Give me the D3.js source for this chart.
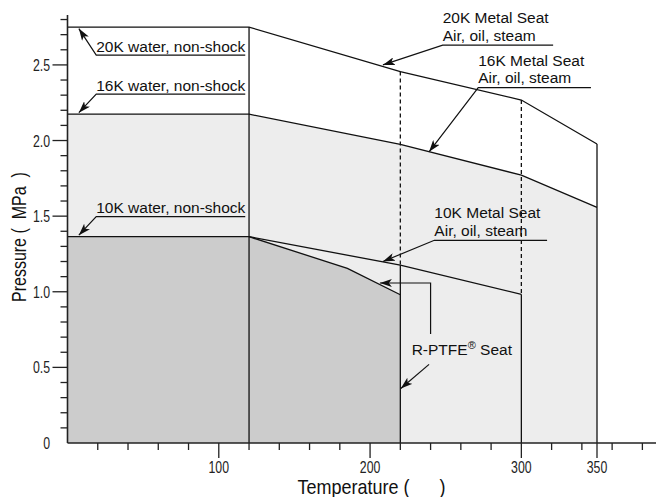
<!DOCTYPE html>
<html><head><meta charset="utf-8">
<script src="https://cdn.jsdelivr.net/npm/d3@7"></script>
<style>
html,body{margin:0;padding:0;background:#fff;}
svg{display:block;}
.ann{font-family:"Liberation Sans",Arial,sans-serif;font-size:15.5px;fill:#111;}
.tick{font-family:"Liberation Sans",Arial,sans-serif;font-size:16px;fill:#222;}
.title{font-family:"Liberation Sans",Arial,sans-serif;font-size:20px;fill:#111;white-space:pre;}
</style>
</head><body>
<svg id="chart" width="656" height="497"></svg>
<script>
// ---- data ----
const metalTemps = [0, 120, 220, 300, 350];
const p20K = [2.75, 2.75, 2.456, 2.268, 1.977];
const p16K = [2.174, 2.174, 1.975, 1.771, 1.558];
const temps10K = [0, 120, 220, 300];
const p10K = [1.364, 1.364, 1.176, 0.983];
const ptfeTemps = [0, 120, 185, 220];
const pPTFE = [1.364, 1.364, 1.155, 0.98];
const xMajorTicks = [100, 200, 300, 350];
const xMinorTicks = [20, 40, 60, 80, 120, 140, 160, 180, 220, 240, 260, 280, 320, 340, 360, 380];
const yMajorTicks = [0, 0.5, 1.0, 1.5, 2.0, 2.5];
const yTickLabels = ["0", "0.5", "1.0", "1.5", "2.0", "2.5"];
const yMinorTicks = d3.range(1, 29).map(i => i / 10).filter(v => Math.abs(v * 2 - Math.round(v * 2)) > 1e-6);
const waterLabels = ["20K water, non-shock", "16K water, non-shock", "10K water, non-shock"];
const waterPressures = [2.75, 2.174, 1.364];
const metalLabels = [["20K Metal Seat", "Air, oil, steam"], ["16K Metal Seat", "Air, oil, steam"], ["10K Metal Seat", "Air, oil, steam"]];

const svg = d3.select("#chart");
const x = d3.scaleLinear().domain([0, 389]).range([67.5, 656]);
const y = d3.scaleLinear().domain([0, 2.83]).range([443, 15]);

const pts = (ts, ps) => ts.map((t, i) => [t, ps[i]]);
const line = d3.line().x(d => x(d[0])).y(d => y(d[1]));
const area = d3.area().x(d => x(d[0])).y0(y(0)).y1(d => y(d[1]));

// fills
svg.append("path").attr("d", area(pts(metalTemps, p16K))).attr("fill", "#ededed");
svg.append("path").attr("d", area(pts(ptfeTemps, pPTFE))).attr("fill", "#cccccc");

const stroke = (sel) => sel.attr("fill", "none").attr("stroke", "#111").attr("stroke-width", 1.3);
stroke(svg.append("path").attr("d", line(pts(metalTemps, p20K))));
stroke(svg.append("path").attr("d", line(pts(metalTemps, p16K))));
stroke(svg.append("path").attr("d", line(pts(temps10K, p10K))));
stroke(svg.append("path").attr("d", line(pts(ptfeTemps, pPTFE).slice(1))));

// vertical limits
const vline = (t, a, b, dashed) => {
  const l = svg.append("line").attr("x1", x(t)).attr("x2", x(t)).attr("y1", y(a)).attr("y2", y(b));
  stroke(l);
  if (dashed) l.attr("stroke-dasharray", "4,3");
};
vline(120, p20K[1], 0, false);
vline(350, p20K[4], 0, false);
vline(220, p20K[2], p10K[2], true);
vline(220, p10K[2], 0, false);
vline(300, p20K[3], p10K[3], true);
vline(300, p10K[3], 0, false);

// axes
const axisColor = "#222";
const gAx = svg.append("g");
gAx.append("line").attr("x1", x(0)).attr("x2", x(389)).attr("y1", y(0)).attr("y2", y(0)).attr("stroke", axisColor).attr("stroke-width", 1.6);
gAx.append("line").attr("x1", x(0)).attr("x2", x(0)).attr("y1", y(0)).attr("y2", y(2.83)).attr("stroke", axisColor).attr("stroke-width", 1.6);
xMinorTicks.forEach(t => gAx.append("line").attr("x1", x(t)).attr("x2", x(t)).attr("y1", y(0)).attr("y2", y(0) + 7).attr("stroke", axisColor).attr("stroke-width", 1.3));
xMajorTicks.forEach(t => {
  gAx.append("line").attr("x1", x(t)).attr("x2", x(t)).attr("y1", y(0)).attr("y2", y(0) + 15).attr("stroke", axisColor).attr("stroke-width", 1.3);
  gAx.append("text").attr("class", "tick").attr("transform", `translate(${x(t)},${y(0) + 30}) scale(0.77,1)`).attr("text-anchor", "middle").text(t);
});
yMinorTicks.forEach(v => gAx.append("line").attr("x1", x(0) - 7).attr("x2", x(0)).attr("y1", y(v)).attr("y2", y(v)).attr("stroke", axisColor).attr("stroke-width", 1.3));
yMajorTicks.forEach((v, i) => {
  if (v > 0) gAx.append("line").attr("x1", x(0) - 15).attr("x2", x(0)).attr("y1", y(v)).attr("y2", y(v)).attr("stroke", axisColor).attr("stroke-width", 1.3);
  gAx.append("text").attr("class", "tick").attr("transform", `translate(${x(0) - 17.5},${y(v) + 6}) scale(0.77,1)`).attr("text-anchor", "end").text(yTickLabels[i]);
});

svg.append("text").attr("class", "title").attr("transform", `translate(26,302) rotate(-90) scale(0.8,1)`).attr("font-size", "21.5px").text("Pressure (  MPa  )");
svg.append("text").attr("class", "title").attr("transform", `translate(297.5,493.5) scale(0.9,1)`).text("Temperature (      )");

// arrow marker
svg.append("defs").append("marker").attr("id", "arr").attr("markerUnits", "userSpaceOnUse")
  .attr("viewBox", "0 0 12 8").attr("refX", 12).attr("refY", 4).attr("markerWidth", 12).attr("markerHeight", 8)
  .attr("orient", "auto").append("path").attr("d", "M0,0 L12,4 L0,8 L3,4 Z").attr("fill", "#111");

const annStroke = (sel) => sel.attr("fill", "none").attr("stroke", "#111").attr("stroke-width", 1.2);

// water annotations
const wTextY = [2.587, 2.329, 1.519];
waterLabels.forEach((lab, i) => {
  const ty = y(wTextY[i]);
  const uy = ty + 3.4;
  svg.append("text").attr("class", "ann").attr("x", x(19)).attr("y", ty).text(lab);
  annStroke(svg.append("path").attr("d", `M${x(117.5)},${uy} L${x(19)},${uy} L${x(7.5)},${y(waterPressures[i]) + (i === 0 ? 1.5 : -1.5)}`).attr("marker-end", "url(#arr)"));
});

// metal seat annotations
const mText = [[248, 2.775], [271.5, 2.495], [242.5, 1.485]];
const mUnder = [321, 346, 317];
const mTip = [[208.5, 2.5], [239, 1.925], [208.5, 1.2]];
metalLabels.forEach((labs, i) => {
  const tx = x(mText[i][0]), ty = y(mText[i][1]);
  labs.forEach((s, j) => svg.append("text").attr("class", "ann").attr("x", tx).attr("y", ty + j * 17.4).text(s));
  const uy = ty + 17.4 + 4.5;
  annStroke(svg.append("path").attr("d", `M${x(mUnder[i])},${uy} L${tx},${uy} L${x(mTip[i][0])},${y(mTip[i][1])}`).attr("marker-end", "url(#arr)"));
});

// R-PTFE annotation
const pt = svg.append("text").attr("class", "ann").attr("x", x(227.5)).attr("y", y(0.585));
pt.append("tspan").text("R-PTFE");
pt.append("tspan").attr("font-size", "11px").attr("dy", -6).text("®");
pt.append("tspan").attr("dy", 6).text(" Seat");
annStroke(svg.append("path").attr("d", `M${x(240)},${y(0.72)} L${x(240)},${y(1.058)} L${x(206.5)},${y(1.058)}`).attr("marker-end", "url(#arr)"));
annStroke(svg.append("path").attr("d", `M${x(239)},${y(0.52)} L${x(220.3)},${y(0.36)}`).attr("marker-end", "url(#arr)"));
</script>
</body></html>
